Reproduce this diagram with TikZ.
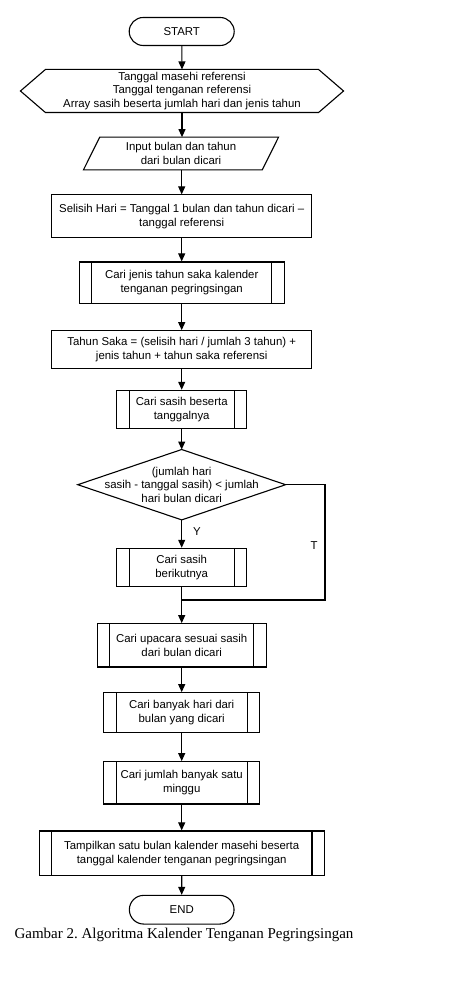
\documentclass[tikz,border=0pt]{standalone}
\usepackage{fontspec}
\setmainfont{Liberation Serif}
\newfontfamily\flowfont{Liberation Sans}
\usetikzlibrary{arrows.meta,shapes.misc,calc}
\frenchspacing
\begin{document}
\begin{tikzpicture}[x=1pt,y=-1pt,
  every node/.style={font=\flowfont\fontsize{11.4}{13.7}\selectfont, align=center, inner sep=0pt, line width=1.1pt},
  box/.style={draw, rectangle, minimum width=#1},
  term/.style={draw, rounded rectangle, minimum width=105pt, minimum height=28pt},
  proc/.style={draw, rectangle, minimum width=#1,
    path picture={\draw[line width=1.1pt] ([xshift=12.4pt]path picture bounding box.north west) -- ([xshift=12.4pt]path picture bounding box.south west);
                  \draw[line width=1.1pt] ([xshift=-12.4pt]path picture bounding box.north east) -- ([xshift=-12.4pt]path picture bounding box.south east);}},
  arr/.style={line width=1.1pt, -{Triangle[length=8pt,width=7pt]}},
  ln/.style={line width=1.1pt}
]
\useasboundingbox (0,0) rectangle (448,984);

\node[term] (start) at (181.7,31.5) {START};

\node[minimum width=322pt, minimum height=42pt] (prep) at (182,91) {Tanggal masehi referensi\\Tanggal tenganan referensi\\Array sasih beserta jumlah hari dan jenis tahun};
\draw[ln] (prep.west) -- ([xshift=25pt]prep.north west) -- ([xshift=-25pt]prep.north east) -- (prep.east) -- ([xshift=-25pt]prep.south east) -- ([xshift=25pt]prep.south west) -- cycle;

\node[minimum width=194pt, minimum height=31.6pt] (input) at (181,153.5) {Input bulan dan tahun\\dari bulan dicari};
\draw[ln] ([xshift=16.3pt]input.north west) -- (input.north east) -- ([xshift=-16.3pt]input.south east) -- (input.south west) -- cycle;

\node[box=260pt, minimum height=42.7pt] (selisih) at (181.7,216.3) {Selisih Hari = Tanggal 1 bulan dan tahun dicari –\\tanggal referensi};

\node[proc=204.7pt, minimum height=41.7pt] (jenis) at (181.7,282.8) {Cari jenis tahun saka kalender\\tenganan pegringsingan};

\node[box=260pt, minimum height=38pt] (saka) at (181.7,349.7) {Tahun Saka = (selisih hari / jumlah 3 tahun) +\\jenis tahun + tahun saka referensi};

\node[proc=130pt, minimum height=38pt] (sasih) at (181.7,409.3) {Cari sasih beserta\\tanggalnya};

\node[minimum width=206.7pt, minimum height=69.3pt] (dec) at (181.7,484.7) {(jumlah hari\\sasih - tanggal sasih) < jumlah\\hari bulan dicari};
\draw[ln] (dec.west) -- (dec.north) -- (dec.east) -- (dec.south) -- cycle;

\node[proc=130pt, minimum height=38.4pt] (next) at (181.7,567.5) {Cari sasih\\berikutnya};

\coordinate (m) at (181.7,600);
\coordinate (r) at (325,600);

\node[proc=168.7pt, minimum height=43.3pt] (upacara) at (181.7,645.3) {Cari upacara sesuai sasih\\dari bulan dicari};

\node[proc=155.7pt, minimum height=39.6pt] (banyak) at (181.7,712.5) {Cari banyak hari dari\\bulan yang dicari};

\node[proc=155.7pt, minimum height=42.3pt] (minggu) at (181.7,782.8) {Cari jumlah banyak satu\\minggu};

\node[proc=285.3pt, minimum height=44.7pt] (tampil) at (181.7,853.3) {Tampilkan satu bulan kalender masehi beserta\\tanggal kalender tenganan pegringsingan};

\node[term, minimum height=28.7pt, minimum width=104.7pt] (end) at (181.7,909.7) {END};

\node[font=\fontsize{15}{16}\selectfont\rmfamily] (cap) at (184,934.5) {Gambar 2. Algoritma Kalender Tenganan Pegringsingan};

\node (ylab) at (197,531.7) {Y};
\node (tlab) at (314,545.7) {T};

\draw[arr] (start) -- (prep.north);
\draw[arr] (prep.south) -- (input.north -| prep.south);
\draw[arr] (input.south -| selisih.north) -- (selisih.north);
\draw[arr] (selisih) -- (jenis);
\draw[arr] (jenis) -- (saka);
\draw[arr] (saka) -- (sasih);
\draw[arr] (sasih.south) -- (dec.north);
\draw[arr] (dec.south) -- (next.north);
\draw[ln] (next.south) -- (m);
\draw[ln] (dec.east) -- (r |- dec.east) -- (r) -- (m);
\draw[arr] (m) -- (upacara.north);
\draw[arr] (upacara) -- (banyak);
\draw[arr] (banyak) -- (minggu);
\draw[arr] (minggu) -- (tampil);
\draw[arr] (tampil) -- (end);
\end{tikzpicture}
\end{document}
